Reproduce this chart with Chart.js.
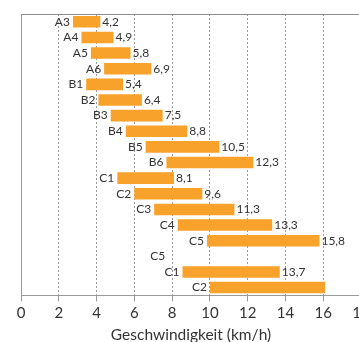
<!DOCTYPE html>
<html>
<head>
<meta charset="utf-8">
<script src="https://cdn.jsdelivr.net/npm/chart.js@4"></script>
<style>
  html, body { margin: 0; padding: 0; background: #fff; overflow: hidden; }
  #wrap { width: 380px; height: 344px; }
</style>
</head>
<body>
<div id="wrap"><canvas id="speedChart" width="380" height="344"></canvas></div>
<script>
// rows from top to bottom
var categories = ['A3', 'A4', 'A5', 'A6', 'B1', 'B2', 'B3', 'B4', 'B5', 'B6',
                  'C1', 'C2', 'C3', 'C4', 'C5', 'C5', 'C1', 'C2'];
// bar start (km/h)
var starts = [2.75, 3.2, 3.7, 4.4, 3.45, 4.1, 4.75, 5.55, 6.6, 7.7,
              5.1, 6.0, 7.05, 8.3, 9.85, 7.8, 8.55, 10.0];
// bar end (km/h), null = label only
var ends = [4.2, 4.9, 5.8, 6.9, 5.4, 6.4, 7.5, 8.8, 10.5, 12.3,
            8.1, 9.6, 11.3, 13.3, 15.8, null, 13.7, 16.1];
// which ends get a number printed next to them
var showValue = [true, true, true, true, true, true, true, true, true, true,
                 true, true, true, true, true, false, true, false];
var xTicks = [0, 2, 4, 6, 8, 10, 12, 14, 16, 18];

var FONT = 'Lato';
var TEXT = '#333';
var GRID = '#9a9a9a';

var barData = starts.map(function (s, i) {
    return ends[i] == null ? null : [s, ends[i]];
});

// top frame line of the plot area
const topLine = {
    id: 'topLine',
    afterDraw: function (chart) {
        const ctx = chart.ctx;
        const a = chart.chartArea;
        ctx.save();
        ctx.strokeStyle = '#8c8c8c';
        ctx.lineWidth = 1;
        ctx.beginPath();
        ctx.moveTo(a.left, Math.round(a.top) + 0.5);
        ctx.lineTo(chart.width, Math.round(a.top) + 0.5);
        ctx.stroke();
        ctx.restore();
    }
};

// row name left of the bar, value right of it
const rowLabels = {
    id: 'rowLabels',
    afterDatasetsDraw: function (chart) {
        const ctx = chart.ctx;
        const x = chart.scales.x;
        const y = chart.scales.y;
        ctx.save();
        ctx.font = '12px ' + FONT;
        ctx.fillStyle = TEXT;
        ctx.textBaseline = 'middle';
        categories.forEach(function (name, i) {
            var cy = y.getPixelForValue(i);
            ctx.textAlign = 'right';
            ctx.fillText(name, x.getPixelForValue(starts[i]) - 3, cy);
            if (showValue[i]) {
                ctx.textAlign = 'left';
                ctx.fillText(ends[i].toFixed(1).replace('.', ','), x.getPixelForValue(ends[i]) + 2, cy);
            }
        });
        ctx.restore();
    }
};

new Chart(document.getElementById('speedChart'), {
    type: 'bar',
    data: {
        labels: categories,
        datasets: [{
            data: barData,
            backgroundColor: '#f8a12b',
            borderWidth: 0,
            barPercentage: 0.74,
            categoryPercentage: 1.0
        }]
    },
    options: {
        indexAxis: 'y',
        responsive: false,
        animation: false,
        layout: { padding: { left: 21, top: 14, right: 19, bottom: 0 } },
        plugins: {
            legend: { display: false },
            tooltip: { enabled: false }
        },
        scales: {
            x: {
                min: 0,
                max: 18,
                afterBuildTicks: function (axis) {
                    axis.ticks = xTicks.map(function (v) { return { value: v }; });
                },
                ticks: {
                    color: TEXT,
                    font: { family: FONT, size: 15 },
                    padding: 3,
                    maxRotation: 0
                },
                grid: {
                    color: GRID,
                    tickLength: 6,
                    tickColor: GRID
                },
                // dash applies to the vertical grid lines, the axis line stays solid
                border: { display: true, color: GRID, dash: [2, 2] },
                title: {
                    display: true,
                    text: 'Geschwindigkeit (km/h)',
                    color: TEXT,
                    font: { family: FONT, size: 15.5 },
                    padding: { top: 0, bottom: 0 }
                }
            },
            y: {
                ticks: { display: false },
                grid: { display: false, drawTicks: false },
                border: { display: true, color: GRID }
            }
        }
    },
    plugins: [rowLabels, topLine]
});
</script>
</body>
</html>
